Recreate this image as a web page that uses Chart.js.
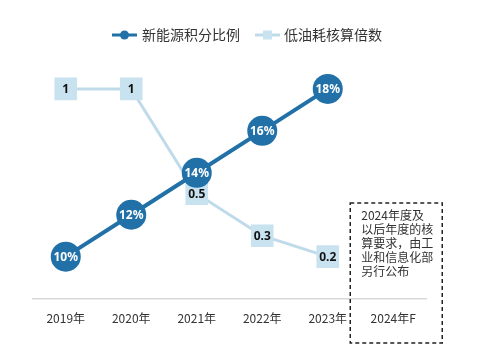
<!DOCTYPE html>
<html><head><meta charset="utf-8">
<script src="https://cdn.jsdelivr.net/npm/chart.js@4"></script>
<style>html,body{margin:0;padding:0;background:#fff}#wrap{width:477px;height:358px}</style>
</head><body><div id="wrap"><canvas id="c" width="477" height="358"></canvas></div>
<script>
const categories = ['2019年','2020年','2021年','2022年','2023年','2024年F'];
const nevRatio = [10, 12, 14, 16, 18, null];
const lowFuelMultiplier = [1, 1, 0.5, 0.3, 0.2, null];
const seriesNames = ['新能源积分比例', '低油耗核算倍数'];
const noteLines = ['2024年度及', '以后年度的核', '算要求，由工', '业和信息化部', '另行公布'];

const BLUE = '#2171a8';
const LIGHT = '#c8e2f0';
const LIGHT_LINE = '#bfdbea';
const CJK = '"Noto Sans CJK SC", "Noto Sans", sans-serif';

const overlay = {
  id: 'overlay',
  afterDatasetsDraw(chart) {
    const ctx = chart.ctx;
    ctx.save();
    ctx.textAlign = 'center';
    ctx.textBaseline = 'middle';
    chart.data.datasets.forEach((ds, di) => {
      const meta = chart.getDatasetMeta(di);
      meta.data.forEach((pt, i) => {
        const v = ds.data[i];
        if (v === null || v === undefined) return;
        if (ds.yAxisID === 'yPct') {
          ctx.fillStyle = '#ffffff';
          ctx.font = 'bold 12px "Noto Sans", sans-serif';
          ctx.fillText(v + '%', pt.x, pt.y + 1);
        } else {
          ctx.fillStyle = '#111111';
          ctx.font = 'bold 12px "Noto Sans", sans-serif';
          ctx.fillText(String(v), pt.x, pt.y + 1);
        }
      });
    });
    ctx.restore();
  },
  afterDraw(chart) {
    const ctx = chart.ctx;
    ctx.save();
    // legend
    const ly = 35;
    ctx.lineWidth = 3;
    ctx.strokeStyle = BLUE;
    ctx.beginPath(); ctx.moveTo(112, ly); ctx.lineTo(137, ly); ctx.stroke();
    ctx.fillStyle = BLUE;
    ctx.beginPath(); ctx.arc(124.5, ly, 4.5, 0, Math.PI * 2); ctx.fill();
    ctx.strokeStyle = LIGHT_LINE;
    ctx.beginPath(); ctx.moveTo(255, ly); ctx.lineTo(280, ly); ctx.stroke();
    ctx.fillStyle = LIGHT;
    ctx.fillRect(263, ly - 4.5, 9, 9);
    ctx.fillStyle = '#333333';
    ctx.font = '14px ' + CJK;
    ctx.textAlign = 'left';
    ctx.textBaseline = 'middle';
    ctx.fillText(seriesNames[0], 142, ly);
    ctx.fillText(seriesNames[1], 284, ly);
    // dashed note box around 2024F
    const xs = chart.scales.x;
    const cx = xs.getPixelForValue(5);
    const left = cx - 43, right = cx + 49, top = 203, bottom = 343;
    ctx.setLineDash([4, 3]);
    ctx.lineWidth = 1.5;
    ctx.strokeStyle = '#222222';
    ctx.strokeRect(left, top, right - left, bottom - top);
    ctx.setLineDash([]);
    ctx.fillStyle = '#333333';
    ctx.font = '12px ' + CJK;
    noteLines.forEach((t, i) => ctx.fillText(t, left + 11, 215 + i * 14.2));
    ctx.restore();
  }
};

new Chart(document.getElementById('c'), {
  type: 'line',
  data: {
    labels: categories,
    datasets: [
      {
        label: seriesNames[1],
        data: lowFuelMultiplier,
        yAxisID: 'yMul',
        borderColor: LIGHT_LINE,
        borderWidth: 3,
        backgroundColor: LIGHT,
        pointStyle: 'rect',
        pointRadius: 16,
        pointHoverRadius: 16,
        pointBorderWidth: 0,
        pointBackgroundColor: LIGHT,
        tension: 0,
        order: 2
      },
      {
        label: seriesNames[0],
        data: nevRatio,
        yAxisID: 'yPct',
        borderColor: BLUE,
        borderWidth: 4,
        backgroundColor: BLUE,
        pointStyle: 'circle',
        pointRadius: 15,
        pointHoverRadius: 15,
        pointBorderWidth: 0,
        pointBackgroundColor: BLUE,
        tension: 0,
        order: 1
      }
    ]
  },
  options: {
    responsive: false,
    animation: false,
    layout: { padding: { top: 47, left: 33, right: 51, bottom: 19 } },
    plugins: { legend: { display: false }, tooltip: { enabled: false } },
    scales: {
      x: {
        offset: true,
        grid: { display: false, drawTicks: false },
        border: { display: true, color: '#d9d9d9', width: 1.5 },
        ticks: { color: '#333333', padding: 13, font: { size: 12, family: CJK } }
      },
      yPct: { display: false, min: 8, max: 20 },
      yMul: { display: false, min: 0, max: 1.2 }
    }
  },
  plugins: [overlay]
});
</script></body></html>
